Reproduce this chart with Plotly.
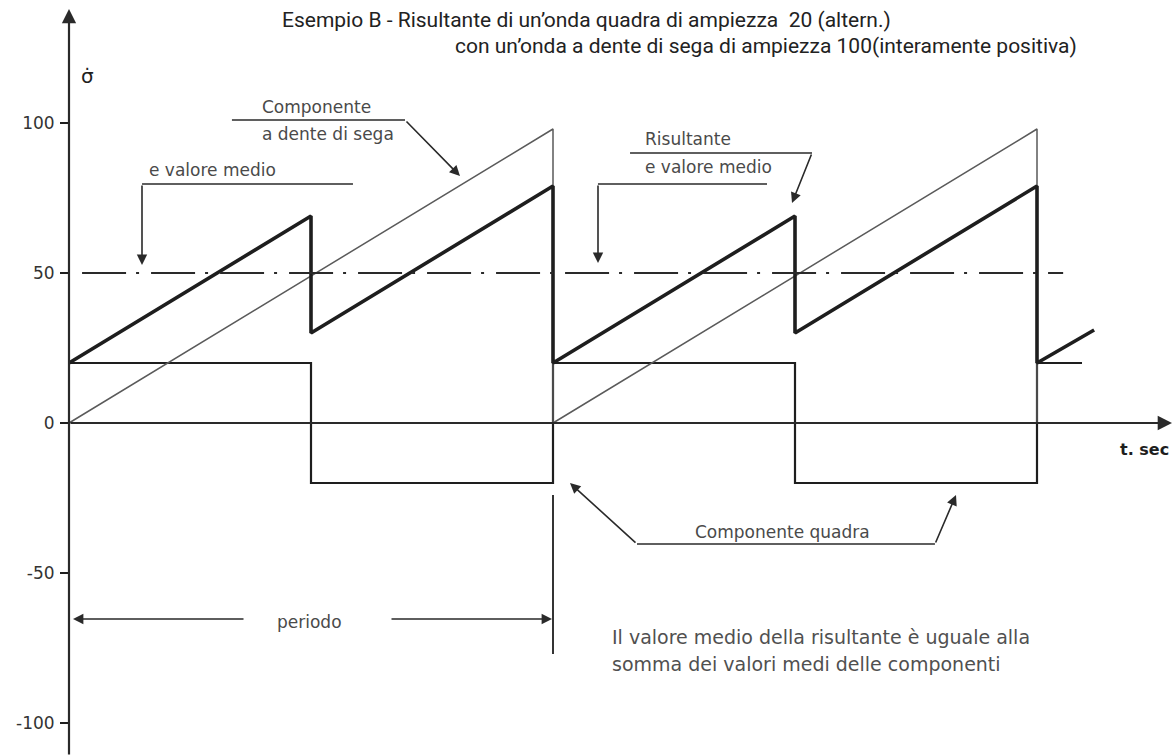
import plotly.graph_objects as go

# time in periods, values in the chart's own units
saw_t = [0, 1, 1, 2, 2]
saw_v = [0, 98, 0, 98, 0]

res_t = [0, 0.5, 0.5, 1, 1, 1.5, 1.5, 2, 2, 2.118]
res_v = [20, 69, 30, 79, 20, 69, 30, 79, 20, 31]

sq_t = [0, 0.5, 0.5, 1, 1, 1.5, 1.5, 2, 2, 2.093]
sq_v = [20, 20, -20, -20, 20, 20, -20, -20, 20, 20]

mean_t = [0.027, 2.054]
mean_v = [50, 50]

y_ticks = [100, 50, 0, -50, -100]
y_labels = ['100', '50', '0', '-50', '-100']

W, H = 1175, 756
X0, PER = 69, 484      # pixel of t=0, pixels per period
Y0, PPU = 423, 3.0     # pixel of value 0, pixels per unit

def px(x):
    return x / W

def py(y):
    return 1 - y / H

def path(points):
    return 'M ' + ' L '.join(f'{px(a):.4f},{py(b):.4f}' for a, b in points)

ink = '#1e1e1e'
soft = '#4a4a4a'

fig = go.Figure()

fig.add_trace(go.Scatter(x=sq_t, y=sq_v, mode='lines',
                         line={'color': ink, 'width': 2.2}))
fig.add_trace(go.Scatter(x=saw_t, y=saw_v, mode='lines',
                         line={'color': '#5a5a5a', 'width': 1.5}))
fig.add_trace(go.Scatter(x=res_t, y=res_v, mode='lines',
                         line={'color': ink, 'width': 3.6}))
fig.add_trace(go.Scatter(x=mean_t, y=mean_v, mode='lines',
                         line={'color': '#2a2a2a', 'width': 1.8,
                               'dash': '44px,10px,3px,12px'}))

shapes = []
# leader lines of the callouts
for pts in [
    [(232, 120), (405, 120)],
    [(353, 184), (142, 184)],
    [(630, 153), (812, 153)],
    [(767, 184), (598, 184)],
    [(637, 544), (935, 544)],
]:
    shapes.append({'type': 'path', 'path': path(pts), 'xref': 'paper', 'yref': 'paper',
                   'line': {'color': '#2a2a2a', 'width': 1.6}})
# end of period marker
shapes.append({'type': 'line', 'xref': 'x', 'yref': 'y', 'x0': 1, 'x1': 1,
               'y0': -24, 'y1': -77, 'line': {'color': ink, 'width': 1.8}})

annotations = []

def arrow(tail, head, width=1.6):
    annotations.append({
        'x': px(head[0]), 'y': py(head[1]), 'xref': 'paper', 'yref': 'paper',
        'ax': tail[0] - head[0], 'ay': tail[1] - head[1],
        'axref': 'pixel', 'ayref': 'pixel', 'text': '',
        'showarrow': True, 'arrowhead': 2, 'arrowsize': 1.3,
        'arrowwidth': width, 'arrowcolor': '#2a2a2a',
    })

# axes with arrow heads
arrow((X0, 756), (X0, 9), 2.2)
arrow((X0, Y0), (1172, Y0), 2.2)

arrow((405, 120), (460, 176))
arrow((142, 184), (142, 265))
arrow((812, 153), (792, 203))
arrow((598, 184), (598, 263))
arrow((637, 544), (570, 483))
arrow((935, 544), (956, 495))
arrow((245, 619), (73, 619))
arrow((390, 619), (552, 619))

def label(text, x, y, size=17, color=soft, anchor='center', family='DejaVu Sans'):
    annotations.append({
        'x': px(x), 'y': py(y), 'xref': 'paper', 'yref': 'paper',
        'text': text, 'showarrow': False, 'xanchor': anchor, 'yanchor': 'middle',
        'font': {'size': size, 'color': color, 'family': family},
    })

title_font = 'Liberation Sans Narrow, Roboto, sans-serif'
label("Esempio B - Risultante di un’onda quadra di ampiezza  20 (altern.)",
      280, 20, 21, '#222222', 'left', title_font)
label("con un’onda a dente di sega di ampiezza 100(interamente positiva)",
      453, 46, 21, '#222222', 'left', title_font)

label('σ̇', 87, 76, 20, ink)
label('Componente', 260, 107, anchor='left')
label('a dente di sega', 260, 134, anchor='left')
label('e valore medio', 147, 170, anchor='left')
label('Risultante', 643, 139, anchor='left')
label('e valore medio', 643, 167, anchor='left')
label('Componente quadra', 782, 532)
label('periodo', 309, 622)
label('Il valore medio della risultante è uguale alla', 610, 637, 19, '#505050', 'left')
label('somma dei valori medi delle componenti', 610, 664, 19, '#505050', 'left')
label('<b>t. sec</b>', 1171, 449, 16, ink, 'right')

fig.update_layout(
    width=W, height=H,
    margin={'l': 0, 'r': 0, 't': 0, 'b': 0},
    paper_bgcolor='white',
    plot_bgcolor='white',
    showlegend=False,
    shapes=shapes,
    annotations=annotations,
    xaxis={
        'range': [-X0 / PER, (W - X0) / PER],
        'visible': False,
    },
    yaxis={
        'range': [(Y0 - H) / PPU, Y0 / PPU],
        'anchor': 'free',
        'position': px(X0),
        'showline': False,
        'showgrid': False,
        'zeroline': False,
        'ticks': 'outside',
        'ticklen': 9,
        'tickwidth': 1.6,
        'tickcolor': ink,
        'tickvals': y_ticks,
        'ticktext': y_labels,
        'ticklabelstandoff': 2,
        'tickfont': {'size': 17, 'color': '#333333', 'family': 'DejaVu Sans'},
    },
)

# the page's default body margin would push the figure 8px down and right
fig.write_html('out.html', config={'displayModeBar': False},
               post_script="document.body.style.margin='0';document.body.style.overflow='hidden';")
